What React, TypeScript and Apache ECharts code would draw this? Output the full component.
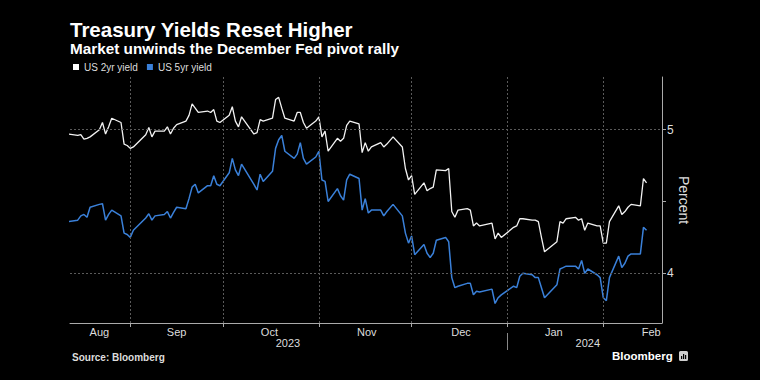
import React, { useEffect, useRef } from "react";
import * as echarts from "echarts";

// ---- data ----
const DATES = [
  "2023-08-11", "2023-08-14", "2023-08-15", "2023-08-16", "2023-08-17", "2023-08-18",
  "2023-08-21", "2023-08-22", "2023-08-23", "2023-08-24", "2023-08-25",
  "2023-08-28", "2023-08-29", "2023-08-30", "2023-08-31", "2023-09-01",
  "2023-09-05", "2023-09-06", "2023-09-07", "2023-09-08",
  "2023-09-11", "2023-09-12", "2023-09-13", "2023-09-14", "2023-09-15",
  "2023-09-18", "2023-09-19", "2023-09-20", "2023-09-21", "2023-09-22",
  "2023-09-25", "2023-09-26", "2023-09-27", "2023-09-28", "2023-09-29",
  "2023-10-02", "2023-10-03", "2023-10-04", "2023-10-05", "2023-10-06",
  "2023-10-10", "2023-10-11", "2023-10-12", "2023-10-13",
  "2023-10-16", "2023-10-17", "2023-10-18", "2023-10-19", "2023-10-20",
  "2023-10-23", "2023-10-24", "2023-10-25", "2023-10-26", "2023-10-27",
  "2023-10-30", "2023-10-31", "2023-11-01", "2023-11-02", "2023-11-03",
  "2023-11-06", "2023-11-07", "2023-11-08", "2023-11-09", "2023-11-10",
  "2023-11-13", "2023-11-14", "2023-11-15", "2023-11-16", "2023-11-17",
  "2023-11-20", "2023-11-21", "2023-11-22", "2023-11-24",
  "2023-11-27", "2023-11-28", "2023-11-29", "2023-11-30", "2023-12-01",
  "2023-12-04", "2023-12-05", "2023-12-06", "2023-12-07", "2023-12-08",
  "2023-12-11", "2023-12-12", "2023-12-13", "2023-12-14", "2023-12-15",
  "2023-12-18", "2023-12-19", "2023-12-20", "2023-12-21", "2023-12-22",
  "2023-12-26", "2023-12-27", "2023-12-28", "2023-12-29",
  "2024-01-02", "2024-01-03", "2024-01-04", "2024-01-05",
  "2024-01-08", "2024-01-09", "2024-01-10", "2024-01-11", "2024-01-12",
  "2024-01-16", "2024-01-17", "2024-01-18", "2024-01-19",
  "2024-01-22", "2024-01-23", "2024-01-24", "2024-01-25", "2024-01-26",
  "2024-01-29", "2024-01-30", "2024-01-31", "2024-02-01", "2024-02-02",
  "2024-02-05", "2024-02-06", "2024-02-07", "2024-02-08", "2024-02-09",
  "2024-02-12", "2024-02-13", "2024-02-14",
];

const US_2YR = [
  4.97, 4.96, 4.965, 4.935, 4.94, 4.95,
  5.0, 5.05, 4.97, 5.02, 5.08,
  5.05, 4.9, 4.89, 4.87, 4.88,
  4.965, 5.015, 4.95, 4.99,
  4.99, 5.02, 4.97, 5.01, 5.035,
  5.06, 5.1, 5.18, 5.15, 5.12,
  5.13, 5.12, 5.14, 5.06, 5.05,
  5.1, 5.16, 5.06, 5.02, 5.09,
  4.97, 4.98, 5.07, 5.06,
  5.08, 5.21, 5.225, 5.15, 5.08,
  5.06, 5.12, 5.12, 5.05, 5.01,
  5.06, 5.09, 4.95, 4.99, 4.85,
  4.94, 4.92, 4.94, 5.03, 5.06,
  5.04, 4.84, 4.91, 4.85, 4.88,
  4.91, 4.88, 4.9, 4.95,
  4.88, 4.73, 4.65, 4.68, 4.55,
  4.63, 4.575, 4.59, 4.6, 4.72,
  4.715, 4.73, 4.43, 4.39, 4.44,
  4.45, 4.44, 4.33, 4.35, 4.33,
  4.35, 4.24, 4.28, 4.25,
  4.32, 4.33, 4.38, 4.38,
  4.37, 4.37, 4.36, 4.25, 4.15,
  4.22, 4.36, 4.35, 4.38,
  4.39, 4.37, 4.38, 4.3, 4.35,
  4.33, 4.33, 4.21, 4.21, 4.36,
  4.47, 4.41, 4.43, 4.46, 4.48,
  4.47, 4.66, 4.63,
];

const US_5YR = [
  4.36, 4.37, 4.4, 4.41, 4.39, 4.46,
  4.48, 4.485, 4.37, 4.41, 4.44,
  4.4, 4.28, 4.27, 4.25, 4.3,
  4.385, 4.415, 4.37, 4.4,
  4.41, 4.43, 4.385, 4.425, 4.46,
  4.45, 4.52, 4.6, 4.62, 4.56,
  4.61, 4.61, 4.68, 4.62, 4.61,
  4.7, 4.8, 4.72, 4.68, 4.76,
  4.62, 4.58, 4.69, 4.64,
  4.71, 4.87, 4.93, 4.96, 4.85,
  4.8, 4.83, 4.91, 4.8, 4.76,
  4.81, 4.85, 4.65, 4.64, 4.5,
  4.59, 4.54, 4.51, 4.65, 4.69,
  4.66, 4.44, 4.52, 4.42, 4.44,
  4.44, 4.4, 4.43, 4.48,
  4.4, 4.28, 4.21, 4.26, 4.13,
  4.2, 4.14, 4.11, 4.14, 4.23,
  4.25, 4.22, 3.97, 3.9, 3.91,
  3.93, 3.93, 3.85, 3.875, 3.87,
  3.89, 3.79, 3.83, 3.85,
  3.91, 3.9, 3.98, 4.0,
  3.99, 3.97, 3.97, 3.9, 3.83,
  3.92, 4.03, 4.04, 4.05,
  4.05, 4.03, 4.09, 4.0, 4.03,
  3.99, 3.97, 3.83, 3.81, 3.97,
  4.12, 4.04, 4.07, 4.12, 4.135,
  4.135, 4.32, 4.3,
];

const SERIES_NAMES = ["US 2yr yield", "US 5yr yield"];
const MONTH_NAMES = ["Jan", "Feb", "Mar", "Apr", "May", "Jun", "Jul", "Aug", "Sep", "Oct", "Nov", "Dec"];
const MONTH_STARTS = ["2023-09-01", "2023-10-01", "2023-11-01", "2023-12-01", "2024-01-01", "2024-02-01"];
const MONTH_LABEL_AT = ["2023-08-22", "2023-09-16", "2023-10-16", "2023-11-16 12", "2023-12-17", "2024-01-16", "2024-02-16 12"];
const YEAR_BREAKS = ["2024-01-01"];
const YEAR_LABEL_AT = ["2023-10-22", "2024-01-27"];
const Y_TICKS = [4, 4.5, 5];
const Y_LABELS = [4, 5];
const Y_GRID = [4, 5];
const X_RANGE = ["2023-08-12 12", "2024-02-20"];
const Y_RANGE = [3.654, 5.367];

const TITLE = "Treasury Yields Reset Higher";
const SUBTITLE = "Market unwinds the December Fed pivot rally";
const SOURCE = "Source: Bloomberg";

// local-time timestamp from "YYYY-MM-DD[ HH]"
function ts(s: string, addDays = 0): number {
  const [d, h] = s.split(" ");
  const [y, m, dd] = d.split("-").map(Number);
  return new Date(y, m - 1, dd + addDays, h ? Number(h) : 0).getTime();
}

const FONT = "'Liberation Sans', Arial, sans-serif";

export default function App() {
  const ref = useRef<HTMLDivElement>(null);

  useEffect(() => {
    document.body.style.margin = "0";
    document.body.style.background = "#000";
    if (!ref.current) return;
    const chart = echarts.init(ref.current, undefined, { renderer: "svg" });

    // daily closes are plotted at the end of their trading day
    const toPoints = (vals: number[]) => DATES.map((d, i) => [ts(d, 1), vals[i]]);

    const xMin = ts(X_RANGE[0]);
    const xMax = ts(X_RANGE[1]);

    const baseX = { type: "value", min: xMin, max: xMax, scale: true, splitLine: { show: false } };

    const option: any = {
      animation: false,
      backgroundColor: "#000",
      textStyle: { fontFamily: FONT },
      title: [
        {
          text: TITLE,
          left: 70,
          top: 18,
          padding: 0,
          textStyle: { color: "#fff", fontSize: 20.5, lineHeight: 22, fontWeight: "bold", fontFamily: FONT },
        },
        {
          text: SUBTITLE,
          left: 70,
          top: 40.5,
          padding: 0,
          textStyle: { color: "#fff", fontSize: 15.3, lineHeight: 16, fontWeight: "bold", fontFamily: FONT },
        },
      ],
      legend: {
        data: SERIES_NAMES,
        left: 73,
        top: 62,
        padding: 0,
        icon: "rect",
        itemWidth: 6,
        itemHeight: 6,
        itemGap: 9,
        selectedMode: false,
        textStyle: { color: "#ddd", fontSize: 10, fontFamily: FONT },
      },
      grid: { left: 70, right: 98, top: 77, bottom: 57 },
      xAxis: [
        {
          ...baseX,
          axisLine: { show: true, lineStyle: { color: "#aaa", width: 1 } },
          axisTick: {
            show: true,
            customValues: MONTH_STARTS.map((s) => ts(s)),
            length: 4,
            lineStyle: { color: "#aaa" },
          },
          axisLabel: { show: false },
        },
        {
          ...baseX,
          position: "bottom",
          axisLine: { show: false },
          axisTick: { show: false },
          axisLabel: {
            show: true,
            customValues: MONTH_LABEL_AT.map((s) => ts(s)),
            formatter: (v: number) => MONTH_NAMES[new Date(v).getMonth()],
            color: "#ddd",
            fontSize: 11,
            margin: 3,
            fontFamily: FONT,
          },
        },
        {
          ...baseX,
          position: "bottom",
          offset: 10,
          axisLine: { show: false },
          axisTick: {
            show: true,
            customValues: YEAR_BREAKS.map((s) => ts(s)),
            length: 17,
            lineStyle: { color: "#888" },
          },
          axisLabel: {
            show: true,
            customValues: YEAR_LABEL_AT.map((s) => ts(s)),
            formatter: (v: number) => String(new Date(v).getFullYear()),
            color: "#ddd",
            fontSize: 11,
            margin: 4,
            fontFamily: FONT,
          },
        },
      ],
      yAxis: {
        type: "value",
        position: "right",
        min: Y_RANGE[0],
        max: Y_RANGE[1],
        axisLine: { show: true, lineStyle: { color: "#aaa", width: 1 } },
        axisTick: { show: true, customValues: Y_TICKS, length: 4, lineStyle: { color: "#aaa" } },
        axisLabel: { show: true, customValues: Y_LABELS, color: "#ddd", fontSize: 12, margin: 5, fontFamily: FONT },
        splitLine: { show: false },
        name: "Percent",
        nameLocation: "middle",
        nameRotate: -90,
        nameGap: 15,
        nameMoveOverlap: false,
        nameTextStyle: { color: "#ddd", fontSize: 14, fontFamily: FONT },
      },
      series: [
        {
          name: SERIES_NAMES[0],
          type: "line",
          data: toPoints(US_2YR),
          showSymbol: false,
          symbol: "none",
          color: "#ffffff",
          lineStyle: { color: "#f2f2f2", width: 1.3 },
          emphasis: { disabled: true },
          z: 3,
          markLine: {
            silent: true,
            symbol: ["none", "none"],
            label: { show: false },
            lineStyle: { color: "#5a5a5a", type: [2, 2], width: 1 },
            emphasis: { disabled: true },
            data: [
              ...MONTH_STARTS.map((s) => ({ xAxis: ts(s) })),
              ...Y_GRID.map((v) => ({ yAxis: v })),
            ],
          },
        },
        {
          name: SERIES_NAMES[1],
          type: "line",
          data: toPoints(US_5YR),
          showSymbol: false,
          symbol: "none",
          color: "#3a80d9",
          lineStyle: { color: "#3a80d9", width: 1.5 },
          emphasis: { disabled: true },
          z: 3,
        },
      ],
      graphic: [
        {
          type: "text",
          left: 72,
          top: 352,
          style: { text: SOURCE, fill: "#ddd", font: `bold 10px ${FONT}` },
        },
        {
          type: "text",
          left: 612,
          top: 350,
          style: { text: "Bloomberg", fill: "#fff", font: `bold 11.5px ${FONT}` },
        },
        {
          type: "group",
          left: 679,
          top: 351,
          children: [
            { type: "rect", shape: { x: 0, y: 0, width: 9, height: 10, r: 1.5 }, style: { fill: "#cfcfcf" } },
            { type: "rect", shape: { x: 2, y: 5, width: 1.2, height: 3 }, style: { fill: "#000" } },
            { type: "rect", shape: { x: 4, y: 3, width: 1.2, height: 5 }, style: { fill: "#000" } },
            { type: "rect", shape: { x: 6, y: 4, width: 1.2, height: 4 }, style: { fill: "#000" } },
          ],
        },
      ],
    };

    chart.setOption(option);
    return () => chart.dispose();
  }, []);

  return <div ref={ref} style={{ width: 760, height: 380, background: "#000" }} />;
}
